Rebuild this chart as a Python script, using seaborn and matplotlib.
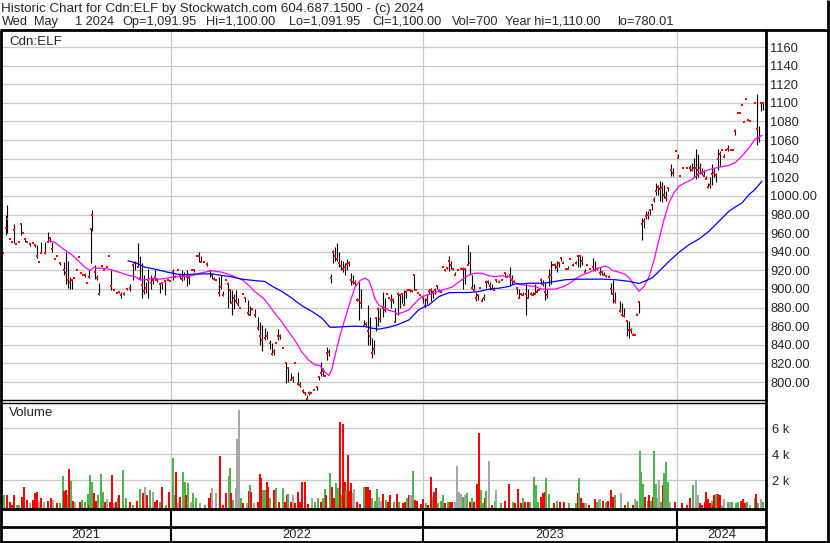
import matplotlib
matplotlib.use("Agg")
import matplotlib.pyplot as plt
from matplotlib.lines import Line2D
import pandas as pd
import seaborn as sns

W, H = 830, 543

# daily bars: (trading day, high, low, close)
bars_2021 = [
    (1, 939, 939, 939), (4, 980, 958, 966), (5, 990, 960, 975), (8, 954, 954, 954),
    (10, 951, 951, 951), (12, 970, 949, 963), (14, 948, 948, 948), (17, 950, 950, 950),
    (19, 970, 958, 970), (21, 960, 960, 960), (23, 954, 950, 954), (25, 950, 950, 950),
    (28, 948, 946, 948), (31, 949, 949, 949), (33, 947, 945, 947), (35, 947, 933, 935),
    (37, 929, 929, 929), (39, 951, 939, 939), (43, 951, 938, 939), (46, 961, 951, 951),
    (48, 955, 951, 955), (50, 951, 940, 943), (53, 932, 932, 932), (55, 935, 935, 935),
    (58, 929, 926, 928), (62, 929, 915, 920), (64, 940, 905, 917), (66, 930, 901, 910),
    (68, 913, 900, 908), (70, 910, 900, 910), (72, 912, 912, 912), (75, 920, 920, 920),
    (77, 934, 934, 934), (79, 917, 917, 917), (81, 915, 915, 915), (83, 917, 913, 915),
    (85, 906, 906, 906), (87, 920, 912, 913), (89, 964, 928, 964), (90, 985, 962, 979),
    (93, 926, 911, 918), (95, 915, 910, 912), (97, 906, 894, 895), (100, 925, 925, 925),
    (102, 920, 920, 920), (105, 924, 924, 924), (107, 935, 935, 935), (109, 920, 899, 903),
    (112, 899, 899, 899), (115, 896, 896, 896), (117, 898, 896, 897), (119, 897, 890, 894),
    (122, 897, 893, 895), (125, 901, 899, 900), (128, 905, 898, 901), (131, 928, 910, 926),
    (133, 930, 920, 928), (136, 949, 924, 924), (138, 935, 910, 912), (140, 928, 890, 904),
    (142, 915, 895, 898), (144, 908, 896, 901), (146, 922, 890, 910), (149, 915, 900, 906),
    (151, 910, 905, 910), (153, 920, 910, 913), (155, 912, 908, 910), (158, 906, 896, 905),
    (160, 906, 900, 906), (163, 910, 894, 909), (166, 910, 910, 910), (168, 909, 909, 909),
]
bars_2022 = [
    (171, 922, 910, 918), (173, 915, 913, 913), (176, 920, 920, 920), (178, 917, 911, 915),
    (180, 920, 909, 911), (182, 918, 910, 914), (185, 920, 903, 913), (187, 915, 905, 912),
    (190, 920, 920, 920), (192, 920, 918, 920), (195, 935, 935, 935), (197, 940, 929, 935),
    (199, 935, 929, 929), (202, 929, 929, 929), (205, 929, 925, 927), (208, 920, 913, 919),
    (210, 917, 911, 915), (212, 913, 910, 911), (214, 911, 910, 910), (217, 913, 892, 896),
    (219, 915, 900, 902), (221, 898, 892, 893), (224, 910, 910, 910), (226, 908, 880, 905),
    (228, 899, 885, 899), (230, 899, 872, 885), (232, 895, 878, 890), (234, 899, 885, 887),
    (236, 890, 882, 884), (238, 880, 880, 880), (241, 895, 895, 895), (243, 890, 886, 890),
    (246, 888, 872, 874), (248, 882, 872, 872), (250, 880, 877, 878), (253, 878, 870, 872),
    (256, 870, 856, 858), (258, 865, 840, 849), (260, 861, 833, 845), (263, 858, 845, 847),
    (265, 855, 846, 850), (268, 845, 835, 842), (270, 842, 829, 830), (272, 835, 829, 832),
    (274, 842, 842, 842), (276, 857, 845, 850), (278, 852, 846, 849), (281, 837, 837, 837),
    (284, 821, 799, 820), (286, 815, 800, 815), (289, 810, 802, 802), (291, 806, 800, 804),
    (293, 820, 820, 820), (296, 811, 797, 798), (298, 800, 795, 797), (301, 792, 788, 790),
    (303, 788, 786, 788), (305, 786, 781, 782), (307, 790, 786, 788), (309, 788, 788, 788),
    (312, 791, 791, 791), (315, 796, 791, 795), (317, 807, 802, 805), (319, 822, 806, 810),
    (321, 815, 806, 812), (323, 807, 807, 807), (325, 838, 824, 831), (327, 835, 828, 832),
    (329, 916, 906, 912), (331, 942, 928, 940), (333, 945, 930, 935), (335, 949, 930, 932),
    (337, 940, 924, 928), (339, 931, 920, 925), (341, 930, 918, 922), (343, 928, 915, 924),
    (345, 932, 920, 927), (347, 930, 925, 928), (349, 917, 904, 910), (351, 915, 905, 908),
    (353, 910, 904, 906), (355, 890, 887, 888), (357, 908, 867, 888), (359, 900, 880, 885),
    (362, 867, 860, 860), (364, 865, 860, 862), (366, 883, 840, 855), (368, 870, 840, 850),
    (370, 847, 826, 831), (372, 845, 830, 835), (374, 869, 855, 869), (376, 881, 860, 878),
    (378, 880, 865, 868), (381, 897, 870, 880), (383, 890, 875, 877), (385, 895, 895, 895),
    (387, 890, 890, 890), (389, 895, 880, 888), (391, 890, 885, 888), (393, 880, 865, 865),
    (396, 897, 872, 895), (398, 895, 880, 893), (400, 895, 885, 895), (402, 899, 883, 883),
    (404, 899, 890, 897), (406, 899, 899, 899), (408, 899, 897, 899), (410, 899, 897, 898),
    (412, 915, 899, 915), (414, 899, 899, 899), (416, 896, 896, 896), (418, 894, 894, 894),
]
bars_2023 = [
    (421, 892, 885, 890), (423, 890, 881, 882), (425, 895, 884, 888), (427, 900, 895, 898),
    (429, 901, 887, 899), (431, 899, 890, 897), (433, 901, 895, 899), (435, 903, 900, 903),
    (437, 900, 897, 898), (439, 897, 897, 897), (441, 924, 924, 924), (443, 921, 919, 920),
    (445, 924, 922, 923), (447, 935, 919, 930), (449, 930, 921, 926), (451, 922, 920, 921),
    (453, 918, 915, 915), (456, 920, 920, 920), (459, 924, 922, 922), (461, 924, 900, 922),
    (463, 922, 905, 922), (466, 947, 926, 926), (468, 940, 915, 928), (470, 915, 900, 901),
    (472, 905, 898, 899), (474, 897, 887, 890), (476, 895, 888, 893), (478, 901, 901, 901),
    (480, 890, 887, 887), (482, 895, 888, 890), (484, 910, 901, 908), (486, 910, 905, 907),
    (488, 908, 899, 903), (490, 905, 900, 900), (492, 902, 899, 899), (494, 910, 908, 910),
    (497, 910, 908, 908), (500, 910, 910, 910), (503, 917, 913, 917), (505, 915, 913, 913),
    (508, 924, 903, 915), (510, 915, 905, 910), (512, 910, 908, 908), (515, 901, 895, 901),
    (517, 900, 890, 890), (519, 895, 893, 895), (521, 897, 893, 893), (524, 906, 872, 895),
    (526, 900, 890, 890), (529, 897, 893, 895), (531, 897, 893, 893), (533, 905, 895, 895),
    (535, 900, 897, 897), (537, 901, 899, 899), (539, 912, 905, 910), (541, 910, 903, 905),
    (543, 906, 888, 897), (545, 900, 890, 893), (547, 922, 903, 913), (549, 930, 905, 915),
    (551, 926, 926, 926), (553, 928, 922, 926), (555, 930, 918, 924), (557, 928, 924, 928),
    (559, 933, 930, 933), (561, 930, 928, 928), (564, 922, 922, 922), (566, 925, 922, 922),
    (568, 932, 932, 932), (571, 928, 925, 926), (574, 930, 927, 928), (576, 935, 924, 935),
    (578, 935, 924, 935), (580, 935, 926, 930), (583, 921, 917, 918), (585, 926, 926, 926),
    (588, 922, 922, 922), (591, 933, 919, 924), (593, 930, 919, 920), (595, 924, 920, 922),
    (598, 924, 915, 917), (600, 919, 915, 918), (602, 918, 915, 915), (604, 915, 913, 914),
    (607, 915, 913, 913), (609, 906, 895, 900), (611, 910, 885, 895), (613, 897, 885, 887),
    (618, 887, 875, 876), (620, 885, 871, 872), (622, 880, 870, 871), (625, 867, 850, 866),
    (627, 866, 847, 856), (629, 858, 853, 856), (631, 853, 851, 851), (633, 851, 851, 851),
    (635, 874, 872, 872), (637, 886, 874, 886), (640, 976, 953, 970), (642, 976, 965, 973),
    (644, 984, 975, 978), (646, 984, 975, 980), (648, 985, 980, 985), (650, 990, 985, 990),
    (652, 999, 993, 996), (654, 1014, 1001, 1005), (656, 1012, 1001, 1010), (658, 1016, 995, 1007),
    (660, 1015, 993, 1009), (662, 1012, 998, 1001), (664, 1005, 995, 998), (666, 1009, 1005, 1009),
    (669, 1034, 1021, 1028), (671, 1030, 1021, 1025), (674, 1048, 1048, 1048),
]
bars_2024 = [
    (676, 1045, 1041, 1041), (678, 1021, 1021, 1021), (681, 1030, 1030, 1030), (685, 1030, 1030, 1030),
    (688, 1033, 1027, 1030), (690, 1035, 1027, 1028), (692, 1041, 1020, 1030), (694, 1050, 1018, 1030),
    (696, 1045, 1020, 1028), (698, 1035, 1024, 1030), (700, 1030, 1023, 1025), (702, 1028, 1021, 1021),
    (704, 1021, 1018, 1018), (706, 1014, 1009, 1010), (708, 1020, 1009, 1012), (710, 1034, 1012, 1024),
    (712, 1030, 1020, 1025), (714, 1025, 1015, 1022), (716, 1050, 1028, 1040), (718, 1048, 1032, 1045),
    (720, 1049, 1049, 1049), (722, 1045, 1042, 1042), (724, 1049, 1049, 1049), (726, 1055, 1048, 1050),
    (729, 1049, 1049, 1049), (731, 1049, 1049, 1049), (733, 1072, 1065, 1070), (736, 1089, 1089, 1089),
    (738, 1089, 1089, 1089), (740, 1098, 1098, 1098), (742, 1080, 1079, 1079), (744, 1104, 1104, 1104),
    (746, 1082, 1082, 1082), (748, 1082, 1080, 1080), (753, 1100, 1100, 1100), (755, 1110, 1055, 1072),
    (757, 1075, 1058, 1062), (759, 1100, 1091, 1100), (761, 1100, 1092, 1100),
]

# moving averages as drawn: (trading day, value)
ma_fast = [
    (47, 952), (53, 950), (58, 945.6), (65, 940.2), (70, 936.6), (77, 929.4), (83, 923.4),
    (88, 919.8), (92, 923.4), (95, 922.3), (100, 922.3), (107, 921.3), (113, 919.4), (120, 917),
    (127, 914.4), (133, 913.3), (138, 909.8), (143, 909.8), (150, 911.6), (157, 910.5),
    (163, 911.2), (170, 912.7), (180, 913.3), (190, 914.4), (200, 917.5), (210, 919.5),
    (220, 918), (230, 914.4), (240, 910), (247, 903.5), (253, 897), (262, 889.5), (267, 882.5),
    (272, 875.1), (280, 864.4), (287, 853.6), (293, 844.7), (300, 832.1), (307, 823.1),
    (313, 818.5), (318, 817.7), (323, 810.6), (327, 807), (330, 814.2), (333, 828.5), (338, 850),
    (343, 867.9), (348, 885.8), (353, 901.9), (358, 909.1), (363, 911.6), (367, 909.1),
    (370, 900.1), (373, 889.4), (377, 882.3), (382, 880.5), (387, 876.9), (392, 875.8),
    (395, 873.3), (400, 874.5), (407, 877.6), (413, 884.8), (420, 891.9), (427, 894), (433, 896),
    (440, 898.7), (450, 902), (460, 910), (467, 915.1), (473, 916.9), (480, 916.9), (487, 914.1),
    (493, 913.4), (500, 914.1), (507, 913.4), (513, 906.2), (520, 904.5), (527, 903.4),
    (533, 902.7), (540, 899.8), (547, 899.8), (553, 899.8), (560, 902), (567, 905.5),
    (573, 910.5), (580, 915.1), (587, 917.6), (593, 921.1), (600, 923.5), (603, 924.5),
    (607, 923), (610, 920), (617, 918), (623, 915.8), (628, 911), (631, 906), (634, 902),
    (637, 897.5), (642, 902.8), (647, 913), (652, 931), (657, 953.1), (662, 974.6), (667, 992.6),
    (672, 1003.4), (677, 1010.5), (683, 1014.1), (690, 1017.7), (697, 1023.8), (703, 1026.7),
    (710, 1029.2), (718, 1031), (727, 1032.8), (733, 1035.6), (740, 1042.8), (747, 1051.8),
    (753, 1060.8), (760, 1065.1),
]
ma_slow = [
    (126, 930.2), (133, 928.4), (143, 923.4), (153, 921.3), (163, 918.7), (170, 917),
    (180, 915.1), (190, 915.9), (200, 916.2), (210, 916.2), (220, 914.5), (230, 913),
    (240, 910.5), (253, 909), (263, 908), (270, 903), (280, 897.3), (290, 890.1), (300, 881.9),
    (310, 875.8), (320, 868.6), (328, 858.9), (333, 858.9), (343, 859.6), (353, 860),
    (363, 859.6), (370, 857.8), (377, 856.8), (387, 858.9), (397, 862.2), (407, 866.8),
    (417, 878), (427, 883), (437, 891.9), (447, 896), (457, 896.2), (467, 896.2), (477, 897.3),
    (487, 899.8), (497, 900.9), (507, 902.7), (513, 905.5), (520, 905.5), (527, 906.2),
    (540, 906.2), (547, 907), (553, 908.1), (563, 909.9), (573, 910.5), (587, 910.5),
    (600, 910.6), (613, 910), (627, 908.2), (637, 905.9), (643, 908.5), (650, 911.8),
    (657, 918.9), (667, 929.7), (677, 939.4), (687, 947.6), (697, 953.7), (707, 962),
    (717, 972.8), (727, 983.6), (733, 987.9), (740, 992.5), (747, 1001.5), (753, 1006.9),
    (760, 1015.9),
]

# volume in thousands: (trading day, volume, d=down / u=up / n=unchanged)
vol_2021 = [
    (1, 0.23, 'n'), (2, 0.87, 'u'), (5, 0.87, 'd'), (8, 0.36, 'd'), (10, 0.1, 'd'), (12, 0.87, 'd'),
    (15, 0.1, 'u'), (17, 0.1, 'u'), (20, 0.74, 'd'), (22, 1.5, 'd'), (25, 0.49, 'd'), (28, 0.23, 'n'),
    (31, 0.49, 'd'), (33, 1.0, 'd'), (35, 1.1, 'd'), (37, 0.36, 'n'), (39, 0.62, 'd'), (42, 0.36, 'n'),
    (46, 0.4, 'd'), (49, 0.62, 'd'), (51, 0.49, 'n'), (55, 0.23, 'd'), (58, 0.23, 'u'), (61, 2.3, 'u'),
    (62, 1.2, 'd'), (64, 1.26, 'd'), (66, 0.87, 'u'), (67, 2.9, 'd'), (69, 1.95, 'u'), (71, 0.4, 'd'),
    (73, 0.36, 'n'), (78, 0.36, 'd'), (80, 0.49, 'u'), (83, 0.36, 'u'), (86, 0.97, 'u'), (87, 0.1, 'd'),
    (88, 2.4, 'u'), (90, 1.85, 'u'), (92, 1.0, 'd'), (94, 0.4, 'd'), (96, 0.87, 'u'), (99, 2.5, 'u'),
    (101, 1.13, 'u'), (103, 0.36, 'd'), (105, 0.56, 'n'), (108, 0.36, 'd'), (110, 2.4, 'd'),
    (112, 0.23, 'n'), (114, 0.36, 'd'), (116, 0.62, 'u'), (117, 0.87, 'd'), (121, 2.8, 'u'),
    (124, 0.62, 'u'), (128, 0.36, 'd'), (131, 0.1, 'u'), (135, 0.4, 'd'), (138, 1.33, 'u'),
    (141, 1.0, 'd'), (143, 1.5, 'n'), (145, 0.87, 'd'), (148, 1.26, 'u'), (151, 1.13, 'n'),
    (153, 0.36, 'd'), (155, 0.49, 'd'), (158, 0.36, 'u'), (160, 1.5, 'd'), (164, 0.1, 'u'),
    (167, 1.13, 'd'),
]
vol_2022 = [
    (171, 3.74, 'u'), (172, 0.87, 'u'), (174, 2.6, 'd'), (176, 0.23, 'n'), (178, 0.74, 'd'),
    (181, 2.6, 'u'), (183, 1.85, 'u'), (184, 0.87, 'd'), (186, 1.77, 'u'), (189, 0.36, 'n'),
    (191, 1.0, 'u'), (194, 0.62, 'u'), (198, 0.23, 'n'), (203, 0.1, 'u'), (207, 0.62, 'd'),
    (209, 1.0, 'd'), (210, 1.44, 'n'), (214, 1.0, 'n'), (218, 3.9, 'd'), (221, 0.1, 'd'),
    (224, 1.0, 'd'), (227, 2.3, 'u'), (228, 2.92, 'u'), (229, 1.0, 'd'), (231, 0.49, 'u'),
    (234, 1.38, 'n'), (235, 5.2, 'n'), (237, 7.4, 'n'), (239, 0.62, 'u'), (241, 0.23, 'd'),
    (245, 0.23, 'n'), (247, 1.18, 'd'), (248, 1.64, 'u'), (249, 1.13, 'd'), (252, 0.23, 'n'),
    (256, 0.36, 'd'), (258, 2.5, 'd'), (259, 2.2, 'd'), (261, 1.26, 'u'), (263, 1.26, 'u'),
    (265, 1.9, 'd'), (266, 1.5, 'd'), (268, 0.62, 'u'), (272, 1.26, 'd'), (274, 1.44, 'u'),
    (277, 0.36, 'd'), (281, 1.44, 'u'), (283, 0.36, 'd'), (285, 0.87, 'd'), (286, 0.92, 'u'),
    (289, 0.36, 'd'), (291, 0.87, 'n'), (293, 0.23, 'd'), (296, 1.13, 'd'), (298, 0.3, 'd'),
    (300, 1.85, 'd'), (303, 1.85, 'd'), (306, 0.2, 'd'), (310, 0.62, 'n'), (313, 0.36, 'u'),
    (316, 0.62, 'u'), (319, 0.36, 'd'), (321, 0.62, 'u'), (323, 1.3, 'u'), (324, 0.87, 'd'),
    (328, 2.54, 'u'), (330, 1.5, 'd'), (332, 0.6, 'd'), (334, 1.77, 'u'), (336, 1.38, 'u'),
    (338, 6.5, 'd'), (340, 0.9, 'u'), (341, 6.3, 'd'), (343, 1.9, 'd'), (344, 1.26, 'u'),
    (346, 3.95, 'd'), (348, 1.18, 'd'), (349, 1.77, 'd'), (351, 1.0, 'n'), (352, 1.33, 'n'),
    (355, 0.36, 'd'), (358, 0.2, 'd'), (362, 1.5, 'u'), (364, 1.5, 'd'), (366, 1.5, 'd'),
    (368, 1.26, 'd'), (370, 0.62, 'u'), (373, 0.4, 'u'), (375, 1.33, 'u'), (377, 0.74, 'n'),
    (379, 0.4, 'n'), (381, 0.92, 'd'), (384, 0.49, 'u'), (386, 0.36, 'd'), (388, 0.87, 'd'),
    (392, 0.36, 'u'), (395, 0.95, 'd'), (397, 0.36, 'u'), (401, 0.23, 'd'), (403, 0.36, 'd'),
    (405, 0.6, 'u'), (407, 0.87, 'd'), (408, 0.87, 'n'), (410, 0.9, 'n'), (411, 2.7, 'u'),
    (413, 0.49, 'd'), (415, 0.4, 'd'), (419, 0.2, 'd'),
]
vol_2023 = [
    (421, 0.56, 'd'), (424, 0.23, 'u'), (426, 0.1, 'd'), (429, 2.28, 'd'), (431, 0.74, 'u'),
    (432, 1.08, 'd'), (434, 1.38, 'd'), (436, 0.23, 'u'), (439, 0.41, 'u'), (441, 0.87, 'u'),
    (443, 0.23, 'd'), (446, 0.36, 'u'), (448, 0.31, 'd'), (450, 0.36, 'd'), (453, 0.36, 'n'),
    (455, 3.1, 'n'), (457, 1.13, 'n'), (459, 0.97, 'n'), (461, 0.74, 'u'), (463, 0.87, 'n'),
    (465, 1.05, 'u'), (468, 0.36, 'd'), (470, 0.62, 'u'), (472, 0.36, 'd'), (475, 1.7, 'd'),
    (477, 5.6, 'd'), (479, 1.26, 'u'), (481, 0.23, 'u'), (483, 0.67, 'd'), (484, 1.18, 'u'),
    (487, 3.5, 'n'), (490, 0.1, 'd'), (493, 0.41, 'u'), (494, 1.26, 'n'), (499, 0.23, 'u'),
    (503, 0.41, 'd'), (507, 1.7, 'd'), (511, 0.36, 'u'), (513, 0.23, 'd'), (516, 1.33, 'd'),
    (519, 0.23, 'd'), (521, 0.62, 'u'), (523, 0.36, 'd'), (526, 0.36, 'd'), (528, 0.31, 'u'),
    (532, 2.28, 'u'), (534, 1.64, 'u'), (536, 0.36, 'u'), (539, 0.74, 'd'), (541, 1.0, 'd'),
    (543, 1.08, 'd'), (544, 2.2, 'u'), (547, 0.95, 'u'), (552, 0.23, 'd'), (555, 0.41, 'u'),
    (558, 0.36, 'd'), (562, 0.36, 'd'), (567, 0.23, 'u'), (574, 0.23, 'u'), (576, 1.0, 'd'),
    (577, 2.2, 'u'), (579, 0.62, 'd'), (581, 0.23, 'd'), (583, 0.23, 'u'), (584, 0.23, 'n'),
    (587, 0.1, 'd'), (593, 0.56, 'd'), (595, 0.36, 'u'), (597, 0.49, 'u'), (598, 0.56, 'n'),
    (601, 0.41, 'd'), (604, 0.36, 'u'), (606, 0.41, 'd'), (609, 1.26, 'd'), (611, 0.74, 'd'),
    (613, 0.87, 'u'), (619, 1.0, 'n'), (623, 0.1, 'd'), (626, 0.36, 'u'), (631, 0.1, 'd'),
    (633, 0.56, 'n'), (635, 0.41, 'u'), (638, 4.26, 'u'), (639, 2.67, 'u'), (641, 1.7, 'u'),
    (643, 0.74, 'd'), (646, 0.41, 'u'), (647, 0.87, 'd'), (649, 0.41, 'u'), (651, 0.74, 'd'),
    (652, 4.26, 'u'), (654, 1.7, 'u'), (656, 0.62, 'n'), (657, 2.0, 'n'), (659, 0.36, 'u'),
    (661, 1.64, 'd'), (662, 2.54, 'u'), (664, 3.4, 'u'), (666, 1.85, 'u'), (668, 0.36, 'n'),
    (673, 0.36, 'd'),
]
vol_2024 = [
    (680, 0.23, 'd'), (685, 0.1, 'd'), (688, 0.62, 'd'), (691, 1.64, 'u'), (694, 2.0, 'n'),
    (696, 0.87, 'n'), (698, 0.23, 'd'), (700, 0.1, 'd'), (703, 0.36, 'd'), (704, 1.08, 'd'),
    (706, 0.56, 'd'), (708, 0.23, 'd'), (710, 0.41, 'u'), (711, 0.1, 'd'), (712, 0.87, 'd'),
    (714, 0.92, 'u'), (716, 0.92, 'd'), (718, 0.87, 'd'), (720, 0.1, 'n'), (722, 0.56, 'n'),
    (726, 0.36, 'u'), (728, 0.31, 'n'), (730, 0.36, 'u'), (734, 0.23, 'u'), (736, 0.31, 'u'),
    (739, 0.41, 'd'), (741, 0.56, 'd'), (743, 0.23, 'd'), (745, 0.31, 'u'), (748, 0.1, 'n'),
    (753, 0.67, 'u'), (754, 0.92, 'd'), (756, 0.23, 'u'), (759, 0.56, 'n'), (761, 0.3, 'u'),
]

price_ticks = list(range(800, 1161, 20))
vol_ticks = [2, 4, 6]
years = ["2021", "2022", "2023", "2024"]
year_first_day = [-1, 169, 421, 675, 764]   # first trading day of each year on the x axis

title1 = "Historic Chart for Cdn:ELF by Stockwatch.com 604.687.1500 - (c) 2024"
title2_fields = ["Wed", "May", "1 2024", "Op=1,091.95", "Hi=1,100.00", "Lo=1,091.95",
                 "Cl=1,100.00", "Vol=700", "Year hi=1,110.00", "lo=780.01"]
title2_x = [2, 34, 75, 122, 206, 289, 372, 452, 505, 617]   # pixel column of each field

sns.set_style("white")
plt.rcParams["font.family"] = ["Liberation Sans", "DejaVu Sans"]
plt.rcParams["font.size"] = 9

bars = pd.DataFrame(bars_2021 + bars_2022 + bars_2023 + bars_2024,
                    columns=["day", "hi", "lo", "close"])
fast = pd.DataFrame(ma_fast, columns=["day", "value"])
slow = pd.DataFrame(ma_slow, columns=["day", "value"])
vol = pd.DataFrame(vol_2021 + vol_2022 + vol_2023 + vol_2024, columns=["day", "k", "dir"])
vol_colors = {"d": "#ff0000", "u": "#4cb64c", "n": "#a6a6a6"}

fig = plt.figure(figsize=(W / 100, H / 100), dpi=100)


def box(x0, y0, x1, y1):
    return [x0 / W, 1 - y1 / H, (x1 - x0) / W, (y1 - y0) / H]


def line(x0, y0, x1, y1, lw=1.5):
    fig.add_artist(Line2D([x0 / W, x1 / W], [1 - y0 / H, 1 - y1 / H], color="black",
                          lw=lw, transform=fig.transFigure, solid_capstyle="butt"))


grid_kw = dict(color="#c8c8c8", lw=0.9)
xmin, xmax = -1, 764

# --- price panel
ax = fig.add_axes(box(1, 31, 766, 400))
ax.set_xlim(xmin, xmax)
ax.set_ylim(780.7, 1177.2)
for y in price_ticks:
    ax.axhline(y, zorder=0, **grid_kw)
for d in year_first_day[1:-1]:
    ax.axvline(d, zorder=0, **grid_kw)
ax.vlines(bars["day"], bars["lo"], bars["hi"], color="black", lw=0.8, zorder=2)
sns.scatterplot(data=bars, x="day", y="close", marker="s", s=2.6, color="red",
                linewidth=0, ax=ax, zorder=3)
sns.lineplot(data=fast, x="day", y="value", color="#ff00ff", lw=0.9, ax=ax, zorder=4)
sns.lineplot(data=slow, x="day", y="value", color="#0000ff", lw=0.9, ax=ax, zorder=4)
ax.yaxis.tick_right()
ax.set_yticks(price_ticks)
ax.set_yticklabels([f"{p}" if p > 1000 else f"{p:.2f}" for p in price_ticks])
ax.tick_params(axis="y", length=0, pad=3, labelsize=9.3)
ax.set_xticks([])
ax.set_xlabel("")
ax.set_ylabel("")
for s in ax.spines.values():
    s.set_visible(False)
ax.text(8 / 765, 1 - 11 / 369, "Cdn:ELF", transform=ax.transAxes, va="center", ha="left",
        fontsize=9.6)

# --- volume panel
axv = fig.add_axes(box(1, 402, 766, 509))
axv.set_xlim(xmin, xmax)
axv.set_ylim(-0.21, 8.02)
for v in vol_ticks:
    axv.axhline(v, zorder=0, **grid_kw)
for d in year_first_day[1:-1]:
    axv.axvline(d, zorder=0, **grid_kw)
axv.bar(vol["day"], vol["k"] + 0.21, bottom=-0.21, width=1.7,
        color=[vol_colors[c] for c in vol["dir"]], linewidth=0, zorder=2)
axv.yaxis.tick_right()
axv.set_yticks(vol_ticks)
axv.set_yticklabels([f"{v} k" for v in vol_ticks])
axv.tick_params(axis="y", length=0, pad=4, labelsize=9.3)
axv.set_xticks([])
for s in axv.spines.values():
    s.set_visible(False)
axv.text(8 / 765, 1 - 11 / 107, "Volume", transform=axv.transAxes, va="center", ha="left",
         fontsize=9.6)

# --- year strip
axy = fig.add_axes(box(1, 509, 766, 543))
axy.set_xlim(xmin, xmax)
axy.set_ylim(543, 509)
axy.axis("off")
axy.vlines(year_first_day[1:-1], 509, 543, color="black", lw=1.5)
for i, yr in enumerate(years):
    mid = (year_first_day[i] + year_first_day[i + 1]) / 2
    axy.text(mid, 535.5, yr, ha="center", va="center", fontsize=9.3)

# --- frame
line(0, 30, 830, 30, 2)
line(1, 30, 1, 543, 2)
line(828, 0, 828, 543, 2)
line(766, 30, 766, 543, 2)
line(1, 400, 766, 400, 1)
line(1, 402.5, 766, 402.5, 1)
line(1, 509, 766, 509, 2)
line(1, 527, 766, 527, 2)
line(0, 542, 830, 542, 2)

fig.text(1 / W, 1 - 9 / H, title1, ha="left", va="center", fontsize=9.6)
for x, field in zip(title2_x, title2_fields):
    fig.text(x / W, 1 - 22 / H, field, ha="left", va="center", fontsize=9.2)

fig.savefig("out.png", dpi=100)
